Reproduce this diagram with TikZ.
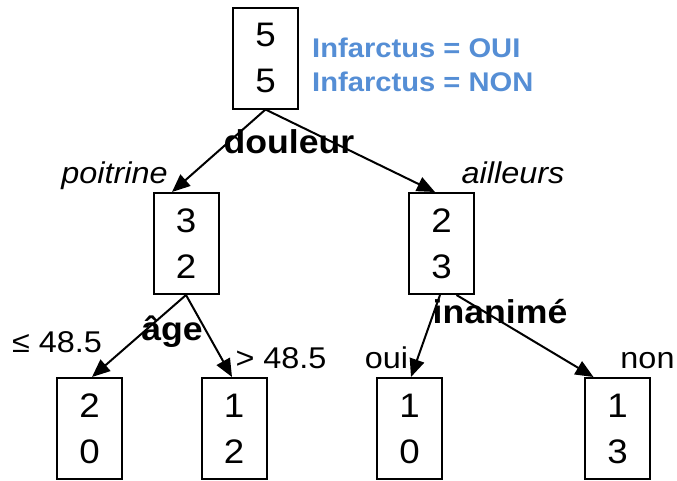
\documentclass[tikz,border=0pt]{standalone}
\usepackage{fontspec}
\setmainfont{Liberation Sans}[FakeStretch=1.08]
\usetikzlibrary{arrows.meta,calc}
\definecolor{infblue}{RGB}{85,142,213}
\tikzset{
  treebox/.style={draw=black, line width=2pt, minimum width=65pt, minimum height=101pt, inner sep=0pt, align=center, font=\fontsize{34}{46}\selectfont},
  edge/.style={line width=2pt, -{Triangle[length=18pt,width=15pt]}},
  attr/.style={font=\fontsize{33}{38}\bfseries\selectfont, anchor=base, inner sep=0pt},
  val/.style={font=\fontsize{30}{36}\selectfont, anchor=base, inner sep=0pt},
  ival/.style={font=\fontsize{30}{36}\itshape\selectfont, anchor=base, inner sep=0pt},
  legend/.style={font=\fontsize{27}{34.5}\bfseries\selectfont, text=infblue, align=left, anchor=west, inner sep=0pt}
}
\begin{document}
\begin{tikzpicture}[x=1pt,y=-1pt]
\useasboundingbox (0,0) rectangle (677,480);
% boxes
\node[treebox] (root) at (265.5,58) {5\\5};
\node[treebox] (L) at (186,243.5) {3\\2};
\node[treebox] (R) at (441.5,243.5) {2\\3};
\node[treebox] (LL) at (89.5,428.5) {2\\0};
\node[treebox] (LR) at (234,428.5) {1\\2};
\node[treebox] (RL) at (409.5,428.5) {1\\0};
\node[treebox] (RR) at (617.5,428.5) {1\\3};
% legend
\node[legend] (leg) at (312,65) {Infarctus = OUI\\Infarctus = NON};
% connectors
\draw[edge] (root.south) -- ($(L.north)+(-14,0)$);
\draw[edge] (root.south) -- ($(R.north)+(-6.5,0)$);
\draw[edge] (L.south) -- ($(LL.north)+(2.5,0)$);
\draw[edge] (L.south) -- ($(LR.north)+(-2,0)$);
\draw[edge] ($(R.south)+(-1.5,0)$) -- ($(RL.north)+(1.5,0)$);
\draw[edge] ($(R.south)+(15,0)$) -- ($(RR.north)+(-24,0)$);
% labels
\node[attr] (douleur) at (289,153) {douleur};
\node[ival] (poitrine) at (114.5,183) {poitrine};
\node[ival] (ailleurs) at (513,183) {ailleurs};
\node[attr] (age) at (172,340) {âge};
\node[val] (le) at (57,352) {≤ 48.5};
\node[val] (gt) at (281,368) {> 48.5};
\node[attr] (inanime) at (500,323) {inanimé};
\node[val] (oui) at (386.5,368) {oui};
\node[val] (non) at (647.5,368) {non};
\end{tikzpicture}
\end{document}
